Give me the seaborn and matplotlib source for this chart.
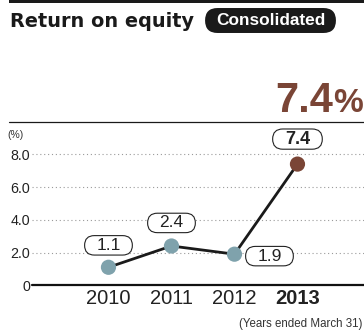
import matplotlib
matplotlib.use("Agg")
import matplotlib.pyplot as plt
from matplotlib import font_manager
from matplotlib.patches import BoxStyle, Rectangle
from matplotlib.lines import Line2D
import pandas as pd
import seaborn as sns

# Data
years = ["2010", "2011", "2012", "2013"]
roe = [1.1, 2.4, 1.9, 7.4]
period = ["past", "past", "past", "latest"]
y_ticks = [0, 2, 4, 6, 8]
y_tick_labels = ["0", "2.0", "4.0", "6.0", "8.0"]

TEAL = "#7fa2ac"
BROWN = "#7a4536"

sns.set_theme(style="white")
installed = {f.name for f in font_manager.fontManager.ttflist}
BASE = "Liberation Sans" if "Liberation Sans" in installed else "DejaVu Sans"
plt.rcParams["font.family"] = [BASE, "DejaVu Sans"]

df = pd.DataFrame({"pos": range(len(years)), "year": years, "roe": roe, "period": period})

fig = plt.figure(figsize=(3.64, 3.31), dpi=100)
W, H = 364, 331


def fx(px):
    return px / W


def fy(py):
    return 1 - py / H


ax = fig.add_axes([fx(32), fy(285.3), fx(364 - 32), (285.3 - 129.7) / H])

sns.lineplot(data=df, x="pos", y="roe", color="#1a1a1a", lw=2.0, ax=ax, zorder=2)
sns.scatterplot(data=df, x="pos", y="roe", hue="period",
                palette={"past": TEAL, "latest": BROWN},
                s=120, linewidth=0, legend=False, ax=ax, zorder=3)

ax.set_xlim(-1.214, 4.056)
ax.set_ylim(0, 9.5)
for s in ax.spines.values():
    s.set_visible(False)

ax.set_yticks(y_ticks)
ax.set_yticklabels(y_tick_labels, fontsize=10.3, color="#222222")
ax.set_xticks(df["pos"])
ax.set_xticklabels(years, fontsize=14.5, color="#222222")
ax.get_xticklabels()[-1].set_fontweight("bold")
ax.tick_params(axis="y", length=0, pad=1.5)
ax.tick_params(axis="x", length=0, pad=2.5)
ax.set_xlabel("")
ax.set_ylabel("")

ax.yaxis.grid(True, color="#9a9a9a", lw=0.8, linestyle=(0, (1, 2.5)))
ax.xaxis.grid(False)
ax.set_axisbelow(True)
ax.axhline(0, color="#111111", lw=1.6, clip_on=False, zorder=4)


def make_pill(wf, hf):
    """Rounded pill of fixed size (in multiples of the font size) around a text."""
    def pill(x0, y0, width, height, mutation_size):
        w = wf * mutation_size
        h = hf * mutation_size
        cx = x0 + width / 2
        cy = y0 + height / 2
        return BoxStyle.Round(pad=0, rounding_size=h / 2 / mutation_size)(
            cx - w / 2, cy - h / 2, w, h, mutation_size)
    return pill


value_pill = make_pill(2.75, 1.12)
offsets = [(0, 15.8), (0, 16.6), (25.2, -1.4), (0, 18.0)]
for (x, v, p), off in zip(zip(df["pos"], df["roe"], df["period"]), offsets):
    bold = p == "latest"
    ax.annotate(f"{v:.1f}", (x, v), xytext=off, textcoords="offset points",
                ha="center", va="center", fontsize=13 if bold else 12.5,
                fontweight="bold" if bold else "normal", color="#222222",
                bbox=dict(boxstyle=value_pill, fc="white", ec="#222222", lw=0.8),
                zorder=5)

# Header
fig.add_artist(Rectangle((fx(9), fy(3)), fx(364 - 9), 3 / H, transform=fig.transFigure,
                         color="#1a1a1a", lw=0))
fig.text(fx(10), fy(27), "Return on equity", fontsize=13.9, fontweight="bold",
         family=["DejaVu Sans"], color="#1a1a1a", va="baseline", ha="left")
fig.text(fx(270.5), fy(20.5), "Consolidated", fontsize=12.4, fontweight="bold",
         color="white", ha="center", va="center",
         bbox=dict(boxstyle=make_pill(7.6, 1.45), fc="#1a1a1a", ec="none"))

fig.text(fx(333), fy(112), "7.4", fontsize=30, fontweight="bold", color=BROWN,
         ha="right", va="baseline")
fig.text(fx(363), fy(112), "%", fontsize=24, fontweight="bold", color=BROWN,
         ha="right", va="baseline")
fig.add_artist(Line2D([fx(9), 1], [fy(122), fy(122)], transform=fig.transFigure,
                      color="#1a1a1a", lw=0.9))

fig.text(fx(7), fy(135), "(%)", fontsize=7.5, color="#333333", ha="left", va="center")
fig.text(fx(362), fy(327), "(Years ended March 31)", fontsize=8.3,
         color="#333333", ha="right", va="baseline")

fig.savefig("out.png", dpi=100)
